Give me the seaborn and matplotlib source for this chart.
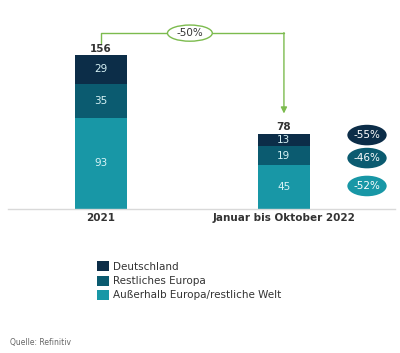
import pandas as pd
import matplotlib.pyplot as plt
import seaborn as sns
from matplotlib.patches import Ellipse, Patch

# ---------------------------------------
# Data
# ---------------------------------------
categories = ["2021", "Januar bis Oktober 2022"]
deutschland = [29, 13]
restliches_europa = [35, 19]
ausserhalb = [93, 45]
totals = [156, 78]
series_names = ["Deutschland", "Restliches Europa", "Außerhalb Europa/restliche Welt"]
series_changes = ["-55%", "-46%", "-52%"]
total_change = "-50%"

colors = ["#0c2d48", "#0b5b70", "#1897a6"]
green = "#7cbb4e"
text_dark = "#333333"

df = pd.DataFrame({
    "Zeitraum": categories,
    "Deutschland": deutschland,
    "Restliches Europa": restliches_europa,
    "Ausserhalb": ausserhalb,
})
# cumulative heights for stacked look (draw largest first)
df["top"] = df["Deutschland"] + df["Restliches Europa"] + df["Ausserhalb"]
df["mid"] = df["Restliches Europa"] + df["Ausserhalb"]

sns.set_style("white")
plt.rcParams["font.family"] = ["DejaVu Sans"]

fig = plt.figure(figsize=(4.0, 3.53), dpi=100)
ax = fig.add_axes([8 / 400, (353 - 209) / 353, 387 / 400, 189 / 353])

bw = 0.284
for col, c in zip(["top", "mid", "Ausserhalb"], colors):
    sns.barplot(data=df, x="Zeitraum", y=col, color=c, width=bw,
                saturation=1, ax=ax, order=categories, linewidth=0,
                edgecolor=c)

ax.set_xlim(-0.508, 1.607)
ax.set_ylim(0, 193)

# segment labels
for i in range(len(categories)):
    a = ausserhalb[i]
    r = restliches_europa[i]
    d = deutschland[i]
    for val, base in [(a, 0), (r, a), (d, a + r)]:
        ax.text(i, base + val / 2, str(val), ha="center", va="center",
                fontsize=7.5, color="#d8f3f6")
    ax.text(i, a + r + d + 1.5, str(totals[i]), ha="center", va="bottom",
            fontsize=7.5, fontweight="bold", color=text_dark)

# change ellipses at right
ex = 1.454
ey = [75.5, 52, 23.5]
for c, y, lab in zip(colors, ey, series_changes):
    ax.add_patch(Ellipse((ex, y), 0.215, 21, facecolor=c, edgecolor="none",
                         clip_on=False))
    ax.text(ex, y, lab, ha="center", va="center", fontsize=7.5, color="white")

# green connector arrow
y_start, y_top, y_end = 169.5, 179.6, 97.5
ax.plot([0, 0, 1], [y_start, y_top, y_top], color=green, lw=1, clip_on=False)
ax.annotate("", xy=(1, y_end), xytext=(1, y_top + 0.5),
            arrowprops=dict(arrowstyle="-|>", color=green, lw=1,
                            mutation_scale=9, shrinkA=0, shrinkB=0),
            annotation_clip=False)
ax.add_patch(Ellipse((0.486, y_top), 0.245, 16.5, facecolor="white",
                     edgecolor=green, lw=1, zorder=5, clip_on=False))
ax.text(0.486, y_top, total_change, ha="center", va="center", fontsize=7.5,
        color=text_dark, zorder=6)

# axes styling
sns.despine(ax=ax, left=True)
ax.spines["bottom"].set_color("#d9d9d9")
ax.spines["bottom"].set_linewidth(1)
ax.set_yticks([])
ax.set_xlabel("")
ax.set_ylabel("")
ax.tick_params(axis="x", length=0, pad=3, labelsize=7.5, colors=text_dark)
for t in ax.get_xticklabels():
    t.set_fontweight("bold")

# legend
handles = [Patch(facecolor=c, edgecolor="none") for c in colors]
fig.legend(handles, series_names, loc="upper left",
           bbox_to_anchor=(88 / 400, 1 - 252 / 353), frameon=False,
           fontsize=7.5, handlelength=1.1, handleheight=1.1,
           handletextpad=0.4, labelspacing=0.35, labelcolor=text_dark)

fig.text(10 / 400, 1 - 342 / 353, "Quelle: Refinitiv", fontsize=5.5,
         color="#666666", va="center")

fig.savefig("out.png", dpi=100)
